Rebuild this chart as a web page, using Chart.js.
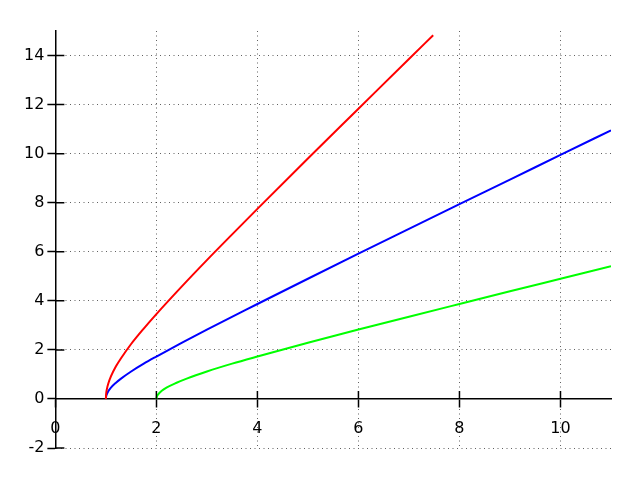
<!DOCTYPE html>
<html>
<head>
<meta charset="utf-8">
<script src="https://cdn.jsdelivr.net/npm/chart.js@4/dist/chart.umd.min.js"></script>
<style>
  html, body { margin: 0; padding: 0; background: #fff; }
  #c { display: block; }
</style>
</head>
<body>
<canvas id="c" width="640" height="480"></canvas>
<script>
// Tick labels
const xTicks = [0, 2, 4, 6, 8, 10];
const yTicks = [-2, 0, 2, 4, 6, 8, 10, 12, 14];

// Red series
const redX = [1, 1.005, 1.02, 1.05, 1.1, 1.2, 1.3, 1.5, 1.75, 2, 2.5, 3, 3.5, 4, 5, 6, 7, 7.48];
const redY = [0, 0.20, 0.40, 0.64, 0.92, 1.33, 1.66, 2.24, 2.87, 3.46, 4.58, 5.66, 6.71, 7.75, 9.80, 11.83, 13.86, 14.83];

// Blue series
const blueX = [1, 1.005, 1.02, 1.05, 1.1, 1.2, 1.3, 1.5, 1.75, 2, 2.5, 3, 4, 5, 6, 7, 8, 9, 10, 11];
const blueY = [0, 0.10, 0.20, 0.32, 0.46, 0.66, 0.83, 1.12, 1.44, 1.73, 2.29, 2.83, 3.87, 4.90, 5.92, 6.93, 7.94, 8.94, 9.95, 10.95];

// Green series
const greenX = [2, 2.01, 2.04, 2.1, 2.2, 2.4, 2.6, 3, 3.5, 4, 5, 6, 7, 8, 9, 10, 11];
const greenY = [0, 0.10, 0.20, 0.32, 0.46, 0.66, 0.83, 1.12, 1.44, 1.73, 2.29, 2.83, 3.35, 3.87, 4.39, 4.90, 5.41];

function pts(xs, ys) { return xs.map((x, i) => ({ x: x, y: ys[i] })); }

const innerTicks = {
  id: 'innerTicks',
  afterDatasetsDraw(chart) {
    const ctx = chart.ctx;
    const xs = chart.scales.x, ys = chart.scales.y;
    const x0 = xs.getPixelForValue(0), y0 = ys.getPixelForValue(0);
    ctx.save();
    ctx.strokeStyle = '#000';
    ctx.lineWidth = 1.5;
    ctx.beginPath();
    xTicks.forEach(v => {
      if (v === 0) return;
      const px = xs.getPixelForValue(v);
      ctx.moveTo(px, y0);
      ctx.lineTo(px, y0 - 8);
    });
    yTicks.forEach(v => {
      if (v === 0) return;
      const py = ys.getPixelForValue(v);
      ctx.moveTo(x0, py);
      ctx.lineTo(x0 + 9, py);
    });
    ctx.stroke();
    ctx.restore();
  }
};

const font = { family: 'DejaVu Sans', size: 16 };

new Chart(document.getElementById('c'), {
  type: 'scatter',
  data: {
    datasets: [
      { data: pts(redX, redY), borderColor: '#ff0000' },
      { data: pts(blueX, blueY), borderColor: '#0000ff' },
      { data: pts(greenX, greenY), borderColor: '#00ff00' }
    ]
  },
  options: {
    responsive: false,
    animation: false,
    showLine: true,
    layout: { padding: { left: 21, right: 29, top: 31, bottom: 32 } },
    elements: {
      point: { radius: 0, hoverRadius: 0 },
      line: { borderWidth: 2, cubicInterpolationMode: 'monotone', fill: false }
    },
    plugins: { legend: { display: false }, tooltip: { enabled: false } },
    scales: {
      x: {
        type: 'linear',
        position: { y: 0 },
        min: 0, max: 11,
        afterBuildTicks: a => { a.ticks = xTicks.map(v => ({ value: v })); },
        ticks: { color: '#000', font: font, padding: 12, maxRotation: 0, autoSkip: false },
        grid: { color: 'rgba(0,0,0,0.62)', lineWidth: 1, tickLength: 8, tickColor: '#000', tickWidth: 1.5 },
        border: { display: true, color: '#000', width: 1.5, dash: [1, 3.5] }
      },
      y: {
        type: 'linear',
        position: 'left',
        min: -2, max: 15,
        afterBuildTicks: a => { a.ticks = yTicks.map(v => ({ value: v })); },
        ticks: { color: '#000', font: font, padding: 3, autoSkip: false },
        grid: { color: 'rgba(0,0,0,0.62)', lineWidth: 1, tickLength: 8, tickColor: '#000', tickWidth: 1.5 },
        border: { display: true, color: '#000', width: 1.5, dash: [1, 3.5] }
      }
    }
  },
  plugins: [innerTicks]
});
</script>
</body>
</html>
